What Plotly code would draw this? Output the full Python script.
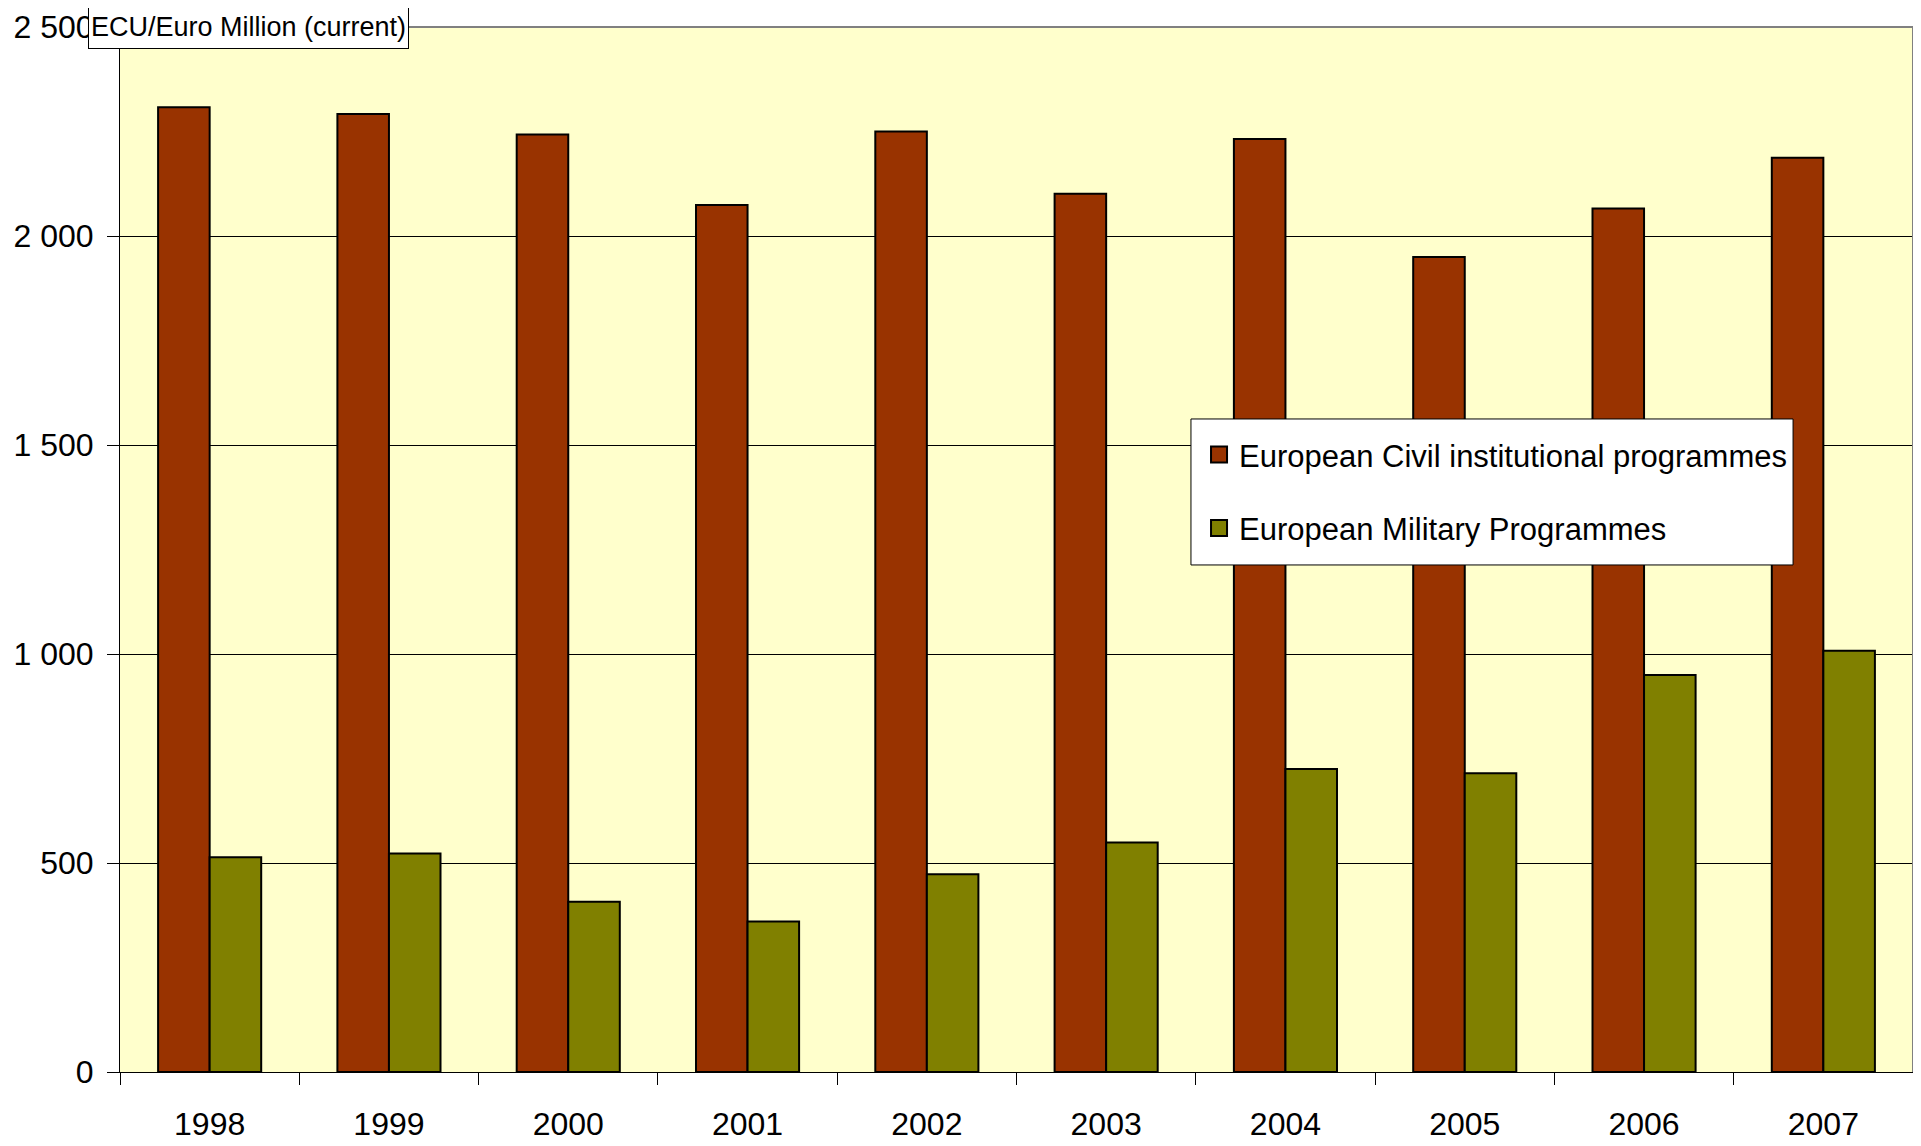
import plotly.graph_objects as go

years = ["1998", "1999", "2000", "2001", "2002", "2003", "2004", "2005", "2006", "2007"]
civil = [2308, 2292, 2243, 2074, 2250, 2101, 2232, 1950, 2066, 2187]
military = [514, 523, 407, 360, 473, 549, 725, 715, 950, 1008]

civil_name = "European Civil institutional programmes"
military_name = "European Military Programmes"
unit_label = "ECU/Euro Million (current)"

FONT = "Liberation Sans, Arial, sans-serif"
CIVIL_COLOR = "#993300"
MIL_COLOR = "#808000"

fig = go.Figure()
fig.add_trace(go.Bar(x=years, y=civil, name=civil_name, showlegend=False,
                     marker=dict(color=CIVIL_COLOR, line=dict(color="black", width=2))))
fig.add_trace(go.Bar(x=years, y=military, name=military_name, showlegend=False,
                     marker=dict(color=MIL_COLOR, line=dict(color="black", width=2))))
# legend entries with larger square symbols
fig.add_trace(go.Scatter(x=[None], y=[None], mode="markers", name=civil_name, legendgroup="a",
                         marker=dict(symbol="square", size=16, color=CIVIL_COLOR,
                                     line=dict(color="black", width=2))))
fig.add_trace(go.Scatter(x=[None], y=[None], mode="markers", name=military_name, legendgroup="b",
                         marker=dict(symbol="square", size=16, color=MIL_COLOR,
                                     line=dict(color="black", width=2))))

fig.update_layout(
    width=1921, height=1146,
    margin=dict(l=112, r=16, t=19, b=82),
    paper_bgcolor="white",
    plot_bgcolor="#FFFFCC",
    barmode="group",
    bargap=0.425,
    bargroupgap=0,
    separators=", ",
    font=dict(family=FONT, size=32, color="black"),
    legend=dict(
        x=0.6018, y=0.6163, xanchor="left", yanchor="top",
        bgcolor="rgba(0,0,0,0)", borderwidth=0,
        font=dict(family=FONT, size=31, color="black"),
        tracegroupgap=30,
        traceorder="grouped",
    ),
    xaxis=dict(
        type="category",
        automargin=False,
        showline=True, linecolor="black", linewidth=1,
        ticks="outside", tickson="boundaries", ticklen=12, tickcolor="black", tickwidth=1,
        showgrid=False,
        tickfont=dict(family=FONT, size=32, color="black"),
        ticklabelstandoff=24,
    ),
    yaxis=dict(
        range=[0, 2500],
        automargin=False,
        tickvals=[0, 500, 1000, 1500, 2000, 2500],
        tickformat=",d",
        showline=True, linecolor="black", linewidth=1,
        ticks="outside", ticklen=12, tickcolor="black", tickwidth=1,
        showgrid=True, gridcolor="black", gridwidth=1,
        zeroline=False,
        tickfont=dict(family=FONT, size=32, color="black"),
        ticklabelstandoff=7,
    ),
    shapes=[
        dict(type="line", xref="paper", yref="paper", x0=0, x1=1, y0=1, y1=1,
             line=dict(color="#808080", width=2), layer="above"),
        dict(type="line", xref="paper", yref="paper", x0=1, x1=1, y0=0, y1=1,
             line=dict(color="#808080", width=2), layer="above"),
        # legend box
        dict(type="rect", xref="paper", yref="paper", x0=0.5973, x1=0.9331, y0=0.4852, y1=0.6249,
             fillcolor="white", line=dict(color="black", width=1), layer="above"),
    ],
    annotations=[
        dict(text=unit_label, xref="paper", yref="paper", x=-0.0178, y=1.021,
             xanchor="left", yanchor="top", showarrow=False,
             font=dict(family=FONT, size=27, color="black"),
             width=313, height=36,
             bgcolor="white", bordercolor="black", borderwidth=1, borderpad=3),
    ],
)

fig.write_html("out.html")
